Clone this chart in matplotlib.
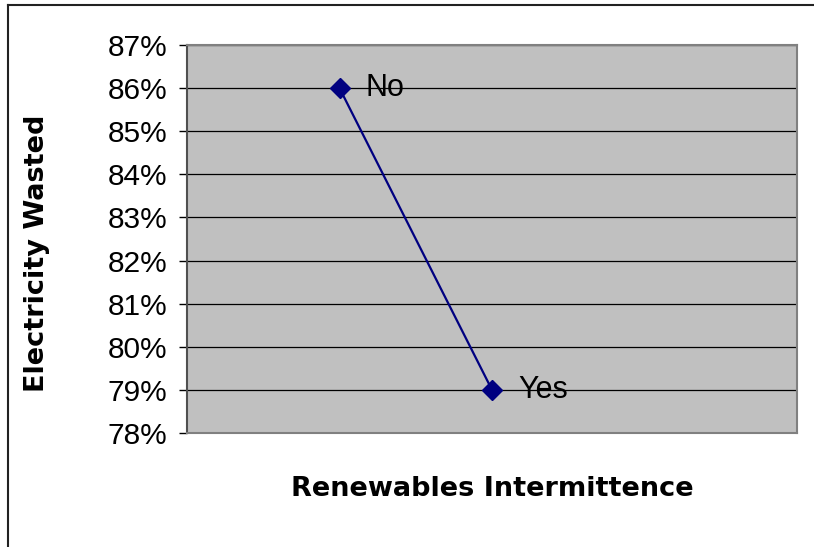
import matplotlib
matplotlib.use("Agg")
import matplotlib.pyplot as plt
from matplotlib.ticker import PercentFormatter, MultipleLocator
from matplotlib.lines import Line2D

# Electricity wasted with / without renewables intermittence
categories = ["No", "Yes"]
xpos = [1, 2]
wasted = [0.86, 0.79]

fig = plt.figure(figsize=(8.14, 5.47), dpi=100)
fig.patch.set_facecolor("white")

# outer chart frame (only top and left edges show)
fig.add_artist(Line2D([8/814, 8/814], [0, 1 - 5/547], transform=fig.transFigure,
                      color="#222222", lw=1.5))
fig.add_artist(Line2D([8/814, 1], [1 - 5/547, 1 - 5/547], transform=fig.transFigure,
                      color="#222222", lw=1.5))

ax = fig.add_axes([187/814, 1 - 433/547, (797 - 187)/814, (433 - 45)/547])
ax.set_facecolor("#C0C0C0")

ax.set_xlim(0, 4)
ax.set_ylim(0.78, 0.87)
ax.yaxis.set_major_locator(MultipleLocator(0.01))
ax.yaxis.set_major_formatter(PercentFormatter(xmax=1, decimals=0))
ax.grid(axis="y", color="black", lw=0.9)
ax.set_axisbelow(True)

ax.plot(xpos, wasted, color="#000080", lw=1.6, marker="D", markersize=10,
        markerfacecolor="#000080", markeredgecolor="#000080", zorder=3)

for x, y, lab in zip(xpos, wasted, categories):
    ax.annotate(lab, (x, y), xytext=(19, 0), textcoords="offset points",
                va="center", ha="left", fontsize=22, family="Liberation Sans")

ax.set_xticks([])
ax.tick_params(axis="y", direction="out", length=6, width=1, color="black",
               pad=8, labelsize=21.5)
for t in ax.get_yticklabels():
    t.set_family("Liberation Sans")

for side in ["top", "right", "bottom"]:
    ax.spines[side].set_color("#808080")
    ax.spines[side].set_linewidth(1.5)
ax.spines["left"].set_color("#505050")
ax.spines["left"].set_linewidth(1.5)

fig.text(37/814, 1 - 253/547, "Electricity Wasted", rotation=90, ha="center", va="center",
         fontsize=19.5, fontweight="bold", family="DejaVu Sans")
fig.text(492/814, 1 - 489/547, "Renewables Intermittence", ha="center", va="center",
         fontsize=19.5, fontweight="bold", family="DejaVu Sans")

fig.savefig("out.png", dpi=100)
